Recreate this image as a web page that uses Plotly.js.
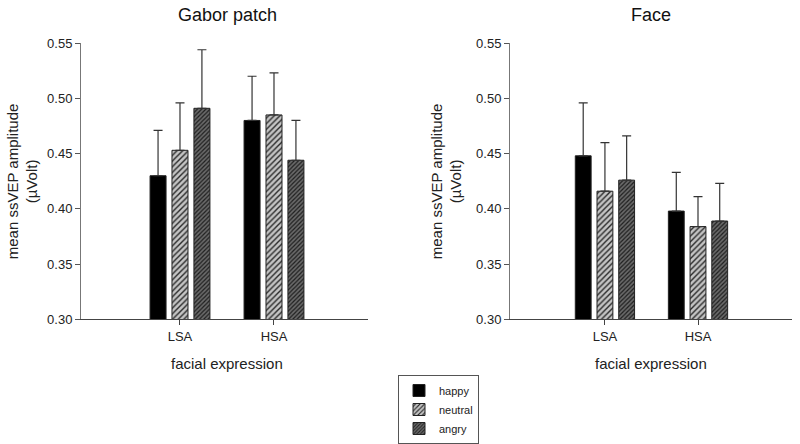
<!DOCTYPE html>
<html>
<head>
<meta charset="utf-8">
<script src="https://cdn.plot.ly/plotly-3.0.1.min.js"></script>
<style>html,body{margin:0;padding:0;background:#fff;}#chart{width:800px;height:444px;}</style>
</head>
<body>
<div id="chart"></div>
<script>
// ---- data ----
var groups = ["LSA", "HSA"];
var groupPos = [0, 1];
var emotions = ["happy", "neutral", "angry"];

// Gabor patch panel
var gaborHappy   = [0.430, 0.480];
var gaborNeutral = [0.453, 0.485];
var gaborAngry   = [0.491, 0.444];
var gaborHappyErr   = [0.041, 0.040];
var gaborNeutralErr = [0.043, 0.038];
var gaborAngryErr   = [0.053, 0.036];

// Face panel
var faceHappy   = [0.448, 0.398];
var faceNeutral = [0.416, 0.384];
var faceAngry   = [0.426, 0.389];
var faceHappyErr   = [0.048, 0.035];
var faceNeutralErr = [0.044, 0.027];
var faceAngryErr   = [0.040, 0.034];

var yTickVals = [0.30, 0.35, 0.40, 0.45, 0.50, 0.55];

// ---- styles ----
var styles = {
  happy:   {color: "#000000", pattern: {shape: ""}},
  neutral: {color: "#c4c4c4", pattern: {shape: "/", fgcolor: "#2a2a2a", bgcolor: "#c4c4c4", size: 4, solidity: 0.35}},
  angry:   {color: "#666666", pattern: {shape: "/", fgcolor: "#1e1e1e", bgcolor: "#6a6a6a", size: 3, solidity: 0.4}}
};

function barTrace(name, vals, errs, xa, ya, showLegend) {
  var s = styles[name];
  return {
    type: "bar", name: name, x: groupPos, y: vals,
    xaxis: xa, yaxis: ya, showlegend: showLegend, legendgroup: name,
    marker: {color: s.color, pattern: s.pattern, line: {color: "#222", width: 1}},
    error_y: {type: "data", symmetric: false, array: errs, arrayminus: errs.map(function(){return 0;}),
              color: "#333", thickness: 1.2, width: 4.5}
  };
}

var data = [
  barTrace("happy",   gaborHappy,   gaborHappyErr,   "x",  "y",  true),
  barTrace("neutral", gaborNeutral, gaborNeutralErr, "x",  "y",  true),
  barTrace("angry",   gaborAngry,   gaborAngryErr,   "x",  "y",  true),
  barTrace("happy",   faceHappy,    faceHappyErr,    "x2", "y2", false),
  barTrace("neutral", faceNeutral,  faceNeutralErr,  "x2", "y2", false),
  barTrace("angry",   faceAngry,    faceAngryErr,    "x2", "y2", false)
];

var W = 800, H = 444;
function px(x) { return x / W; }
function py(y) { return 1 - y / H; }

var fontFam = "Liberation Sans, Arial, sans-serif";
var tickFont = {family: fontFam, size: 13, color: "#222"};

function xAxis(domain, range) {
  return {domain: domain, range: range, tickvals: groupPos, ticktext: groups,
          showline: true, linecolor: "#444", linewidth: 1, ticks: "outside", ticklen: 5,
          tickcolor: "#444", showgrid: false, zeroline: false, tickfont: tickFont,
          automargin: false, fixedrange: true};
}
function yAxis(domain, anchor) {
  return {domain: domain, range: [0.30, 0.55], tickvals: yTickVals, tickformat: ".2f",
          anchor: anchor, showline: true, linecolor: "#777", linewidth: 1, ticks: "outside",
          ticklen: 5, tickcolor: "#555", showgrid: false, zeroline: false, tickfont: tickFont,
          automargin: false, fixedrange: true};
}

var yDom = [py(326), py(44)];
var layout = {
  width: W, height: H,
  margin: {l: 0, r: 0, t: 0, b: 0},
  paper_bgcolor: "#fff", plot_bgcolor: "#fff",
  barmode: "group", bargap: 0.3, bargroupgap: 0.27,
  font: {family: fontFam, color: "#222"},
  xaxis:  xAxis([px(81), px(368)], [-1.053, 2.0]),
  yaxis:  yAxis(yDom, "x"),
  xaxis2: xAxis([px(510), px(792)], [-1.02, 2.01]),
  yaxis2: yAxis(yDom, "x2"),
  showlegend: true,
  legend: {x: px(398), y: py(383), xanchor: "left", yanchor: "top",
           bordercolor: "#555", borderwidth: 1, bgcolor: "#fff",
           font: {family: fontFam, size: 11, color: "#222"}, tracegroupgap: 0},
  annotations: [
    {text: "Gabor patch", xref: "paper", yref: "paper", x: px(227), y: py(15), showarrow: false,
     xanchor: "center", yanchor: "middle", font: {size: 18, family: fontFam, color: "#111"}},
    {text: "Face", xref: "paper", yref: "paper", x: px(651), y: py(15), showarrow: false,
     xanchor: "center", yanchor: "middle", font: {size: 18, family: fontFam, color: "#111"}},
    {text: "facial expression", xref: "paper", yref: "paper", x: px(227), y: py(371), showarrow: false,
     xanchor: "center", yanchor: "middle", font: {size: 15, family: fontFam, color: "#222"}},
    {text: "facial expression", xref: "paper", yref: "paper", x: px(651), y: py(371), showarrow: false,
     xanchor: "center", yanchor: "middle", font: {size: 15, family: fontFam, color: "#222"}},
    {text: "mean ssVEP amplitude<br>(µVolt)", xref: "paper", yref: "paper", x: px(22), y: py(185),
     textangle: -90, showarrow: false, xanchor: "center", yanchor: "middle",
     font: {size: 15, family: fontFam, color: "#222"}},
    {text: "mean ssVEP amplitude<br>(µVolt)", xref: "paper", yref: "paper", x: px(446), y: py(185),
     textangle: -90, showarrow: false, xanchor: "center", yanchor: "middle",
     font: {size: 15, family: fontFam, color: "#222"}}
  ]
};

Plotly.newPlot("chart", data, layout, {displayModeBar: false, staticPlot: true});
</script>
</body>
</html>
